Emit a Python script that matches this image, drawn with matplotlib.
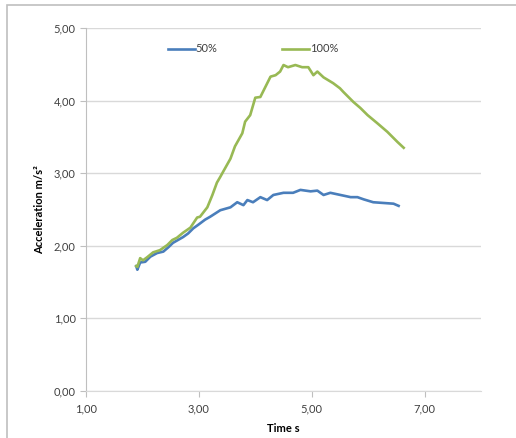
import matplotlib
matplotlib.use('Agg')
from matplotlib import pyplot as plt
from matplotlib.patches import Rectangle
from matplotlib.ticker import FuncFormatter

# Data (time in s, acceleration in m/s^2)
t_50 = [1.89, 1.91, 1.96, 2.05, 2.14, 2.26, 2.37, 2.46, 2.54, 2.63, 2.72, 2.81,
        2.90, 2.99, 3.11, 3.20, 3.24, 3.38, 3.56, 3.68, 3.79, 3.86, 3.96, 4.09,
        4.21, 4.32, 4.50, 4.67, 4.80, 4.98, 5.10, 5.21, 5.33, 5.51, 5.69, 5.81,
        5.92, 6.09, 6.27, 6.45, 6.54]
acc_50 = [1.72, 1.67, 1.77, 1.78, 1.85, 1.90, 1.92, 1.98, 2.04, 2.08, 2.12, 2.17,
          2.24, 2.29, 2.36, 2.40, 2.42, 2.49, 2.53, 2.60, 2.56, 2.63, 2.60, 2.67,
          2.63, 2.70, 2.73, 2.73, 2.77, 2.75, 2.76, 2.70, 2.73, 2.70, 2.67, 2.67,
          2.64, 2.60, 2.59, 2.58, 2.55]

t_100 = [1.89, 1.91, 1.96, 2.01, 2.08, 2.19, 2.31, 2.44, 2.53, 2.61, 2.72, 2.85,
         2.97, 3.02, 3.15, 3.24, 3.32, 3.38, 3.43, 3.56, 3.64, 3.77, 3.82, 3.91,
         4.00, 4.09, 4.18, 4.27, 4.36, 4.44, 4.50, 4.58, 4.71, 4.83, 4.94, 5.03,
         5.10, 5.21, 5.38, 5.50, 5.56, 5.74, 5.86, 5.99, 6.16, 6.34, 6.52, 6.63]
acc_100 = [1.72, 1.71, 1.83, 1.80, 1.84, 1.91, 1.94, 2.01, 2.08, 2.11, 2.18, 2.25,
           2.39, 2.40, 2.53, 2.70, 2.87, 2.95, 3.02, 3.20, 3.37, 3.55, 3.71, 3.80,
           4.04, 4.05, 4.19, 4.33, 4.35, 4.40, 4.49, 4.46, 4.49, 4.46, 4.46, 4.35,
           4.40, 4.32, 4.24, 4.17, 4.12, 3.98, 3.90, 3.80, 3.69, 3.57, 3.43, 3.35]

x_ticks = [1, 3, 5, 7]
y_ticks = [0, 1, 2, 3, 4, 5]

plt.rcParams['font.family'] = ['Lato', 'DejaVu Sans']

fig = plt.figure(figsize=(5.16, 4.38), dpi=100)
ax = fig.add_axes([86 / 516, 1 - 391 / 438, (481 - 86) / 516, (391 - 28) / 438])

# chart area border (Excel style)
fig.patches.append(Rectangle((7 / 516, -0.1), 1.2, 1 - 5 / 438 + 0.1,
                             transform=fig.transFigure, fill=False,
                             edgecolor='#bfbfbf', linewidth=1.2))

ax.plot(t_50, acc_50, color='#4a7ebb', linewidth=1.9, label='50%')
ax.plot(t_100, acc_100, color='#98b954', linewidth=1.9, label='100%')

ax.set_xlim(1, 8)
ax.set_ylim(0, 5)
ax.set_xticks(x_ticks)
ax.set_yticks(y_ticks)
comma = FuncFormatter(lambda v, pos: f'{v:.2f}'.replace('.', ','))
ax.xaxis.set_major_formatter(comma)
ax.yaxis.set_major_formatter(comma)

ax.grid(axis='y', color='#d9d9d9', linewidth=1)
ax.set_axisbelow(True)
for side in ['top', 'right']:
    ax.spines[side].set_visible(False)
ax.spines['left'].set_color('#bfbfbf')
ax.spines['bottom'].set_color('#d9d9d9')
ax.tick_params(axis='both', colors='#bfbfbf', labelcolor='#404040',
               labelsize=8, length=4, direction='out')
ax.tick_params(axis='x', pad=5)

ax.set_xlabel('Time s', fontsize=8, fontweight='bold', labelpad=6)
ax.set_ylabel('Acceleration m/s²', fontsize=8, fontweight='bold', labelpad=6)

fig.legend(loc='center', bbox_to_anchor=(253 / 516, 1 - 49 / 438), ncol=2,
           frameon=False, fontsize=8, handlelength=2.4, handletextpad=0.1,
           columnspacing=5.8, labelcolor='#404040')

fig.savefig('out.png', dpi=100)
